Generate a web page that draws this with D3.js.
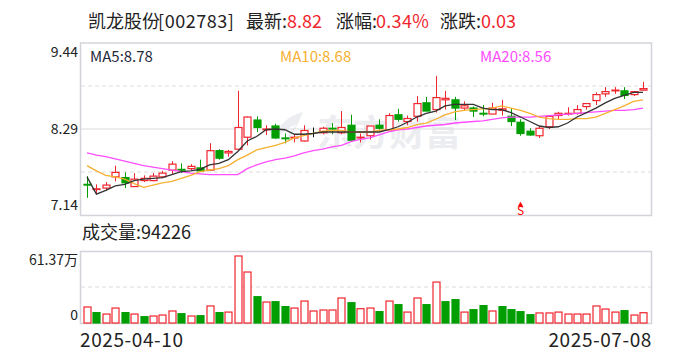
<!DOCTYPE html>
<html>
<head>
<meta charset="utf-8">
<script src="https://cdn.jsdelivr.net/npm/d3@7"></script>
<style>
  html, body { margin: 0; padding: 0; background: #fff; }
  text { font-family: "Noto Sans CJK SC", "Noto Sans", sans-serif; }
</style>
</head>
<body>
<div id="chart"></div>
<script>
const open = [7.55,7.48,7.50,7.65,7.64,7.52,7.60,7.60,7.65,7.74,7.75,7.76,7.77,7.74,8.00,7.97,8.02,8.18,8.41,8.28,
  8.33,8.17,8.17,8.13,8.27,8.24,8.30,8.24,8.34,8.17,8.20,8.34,8.28,8.48,8.39,8.46,8.64,8.55,8.68,8.68,
  8.57,8.57,8.50,8.49,8.54,8.46,8.38,8.26,8.20,8.32,8.47,8.49,8.50,8.59,8.67,8.76,8.80,8.80,8.75,8.81];
const close = [7.54,7.49,7.54,7.71,7.57,7.62,7.63,7.66,7.70,7.82,7.74,7.79,7.73,8.00,7.90,7.99,8.31,8.45,8.31,8.29,
  8.17,8.16,8.18,8.27,8.27,8.30,8.29,8.31,8.14,8.18,8.33,8.30,8.47,8.42,8.43,8.63,8.53,8.71,8.70,8.57,
  8.60,8.53,8.49,8.57,8.56,8.39,8.23,8.21,8.30,8.46,8.50,8.50,8.55,8.63,8.75,8.79,8.81,8.74,8.79,8.83];
const high = [7.66,7.55,7.58,7.80,7.71,7.70,7.67,7.70,7.73,7.86,7.83,7.82,7.88,8.10,8.02,8.01,8.80,8.46,8.46,8.34,
  8.36,8.23,8.21,8.34,8.31,8.32,8.37,8.53,8.48,8.23,8.33,8.42,8.50,8.56,8.47,8.73,8.72,9.00,8.80,8.72,
  8.66,8.59,8.61,8.64,8.68,8.56,8.42,8.30,8.33,8.46,8.52,8.58,8.61,8.63,8.78,8.85,8.85,8.85,8.79,8.92];
const low = [7.37,7.42,7.47,7.59,7.50,7.52,7.58,7.59,7.63,7.69,7.70,7.74,7.72,7.74,7.88,7.92,8.02,8.07,8.25,8.21,
  8.16,8.10,8.11,8.12,8.18,8.22,8.22,8.22,8.14,8.11,8.15,8.28,8.28,8.39,8.34,8.39,8.53,8.51,8.55,8.41,
  8.54,8.45,8.46,8.49,8.47,8.33,8.20,8.20,8.17,8.29,8.42,8.47,8.48,8.55,8.61,8.72,8.76,8.69,8.73,8.80];

const ma5 = [7.65,7.42,7.47,7.53,7.55,7.60,7.62,7.63,7.64,7.68,7.72,7.73,7.75,7.81,7.83,7.88,7.99,8.13,8.19,8.28,
  8.29,8.28,8.22,8.22,8.23,8.25,8.25,8.25,8.25,8.25,8.25,8.25,8.28,8.32,8.38,8.45,8.50,8.53,8.60,8.62,
  8.62,8.62,8.57,8.55,8.55,8.51,8.45,8.39,8.33,8.31,8.32,8.37,8.45,8.51,8.57,8.64,8.70,8.74,8.78,8.78];
const ma10 = [7.80,7.73,7.67,7.65,7.62,7.56,7.51,7.54,7.57,7.59,7.63,7.67,7.72,7.74,7.76,7.80,7.88,7.94,8.01,8.04,
  8.07,8.11,8.17,8.20,8.23,8.26,8.27,8.27,8.25,8.25,8.25,8.27,8.28,8.29,8.31,8.35,8.37,8.42,8.48,8.52,
  8.54,8.55,8.56,8.57,8.60,8.57,8.54,8.50,8.45,8.43,8.42,8.42,8.43,8.43,8.45,8.50,8.55,8.60,8.66,8.68];
const ma20 = [7.97,7.94,7.92,7.89,7.86,7.83,7.80,7.78,7.76,7.74,7.72,7.70,7.69,7.68,7.68,7.68,7.68,7.76,7.81,7.85,
  7.88,7.90,7.93,7.97,8.00,8.02,8.05,8.07,8.12,8.15,8.17,8.21,8.25,8.28,8.29,8.31,8.33,8.34,8.35,8.37,
  8.38,8.39,8.40,8.42,8.44,8.45,8.45,8.45,8.46,8.47,8.48,8.49,8.50,8.51,8.52,8.53,8.54,8.54,8.55,8.57];

// volume in 万
const volume = [14.65,9.5,8.2,13.7,9.5,8.2,5.8,6.4,7.3,11,8.5,6.4,6.7,15.6,9.5,10,61.37,46.7,24.1,19.2,
  19.5,15,13.7,20.1,11,11.9,11.9,22.9,18.6,13.1,13.7,10.4,20.1,16.8,10,22.9,16.8,37.5,19.5,21.4,
  10,12.2,15.9,11,15,12.2,10.4,7.6,9.2,9.2,10,8.2,8.2,8.2,15.6,12.8,10,11.3,7.3,9.42];
// 1 = red hollow bar, 0 = green solid bar
const volumeUp = [1,0,1,1,0,1,0,1,1,1,0,1,0,1,0,1,1,1,0,1,
  0,0,1,1,1,1,1,1,0,1,1,0,1,0,1,1,0,1,0,0,
  1,0,0,1,0,0,0,0,1,1,1,1,1,1,1,1,1,0,1,1];

const priceLabels = ["9.44", "8.29", "7.14"];
const volumeLabels = ["61.37万", "0"];
const dateLabels = ["2025-04-10", "2025-07-08"];
const sellIndex = 46;

const RED = "#f0252d", GREEN = "#009e00", INK = "#222";

const svg = d3.select("#chart").append("svg")
  .attr("width", 688).attr("height", 360)
  .style("display", "block");

const left = 81, right = 651;
const x = d3.scaleLinear().domain([0, 59]).range([87, 643]);
const y = d3.scaleLinear().domain([7.14, 9.44]).range([215, 43]);
const yVol = d3.scaleLinear().domain([0, 61.37]).range([323, 256]);

// title row, each piece placed on its own
[["凯龙股份", 88, INK, 0], ["[002783]", 158, INK, 0.55], ["最新:", 246, INK, 0], ["8.82", 287, RED, 0],
 ["涨幅:", 336, INK, 0], ["0.34%", 376, RED, 0.3], ["涨跌:", 440, INK, 0], ["0.03", 481, RED, 0]].forEach((d) => {
  svg.append("text").attr("x", d[1]).attr("y", 28).attr("font-size", 18)
    .attr("fill", d[2]).attr("letter-spacing", d[3]).text(d[0]);
});

// watermark
svg.append("path")
  .attr("d", "M303,112 C288,116 276,126 275,141 C282,131 291,126 298,124 C291,129 286,136 285,146 C291,136 297,127 303,112 Z")
  .attr("fill", "#ecedf0");
svg.append("text").attr("x", 317).attr("y", 146).attr("font-size", 36).attr("font-weight", 700)
  .attr("fill", "#ecedf0").text("东方财富");

// frames and grid
function frame(top, bottom) {
  svg.append("rect").attr("x", left - 0.5).attr("y", top + 0.5)
    .attr("width", right - left + 1).attr("height", bottom - top)
    .attr("fill", "none").attr("stroke", "#d3d3da").attr("stroke-width", 1.5);
}
frame(42.5, 215);
frame(251, 323);

[y(8.865), y(7.715)].forEach((v) => {
  svg.append("line").attr("x1", left).attr("x2", right).attr("y1", v).attr("y2", v)
    .attr("stroke", "#dcdcdc").attr("stroke-dasharray", "4,3");
});
svg.append("line").attr("x1", left).attr("x2", right).attr("y1", y(8.29)).attr("y2", y(8.29))
  .attr("stroke", "#dcdcdc").attr("stroke-width", 1.2);
svg.append("line").attr("x1", left).attr("x2", right).attr("y1", 287).attr("y2", 287)
  .attr("stroke", "#dcdcdc").attr("stroke-dasharray", "4,3");

// candles
const candles = d3.range(open.length);
const bodyW = 7;
svg.append("g").selectAll("line").data(candles).enter().append("line")
  .attr("x1", (i) => Math.round(x(i)) + 0.5).attr("x2", (i) => Math.round(x(i)) + 0.5)
  .attr("y1", (i) => y(high[i])).attr("y2", (i) => y(low[i]))
  .attr("stroke", (i) => candleColor(i));
svg.append("g").selectAll("rect").data(candles).enter().append("rect")
  .attr("x", (i) => Math.round(x(i)) + 0.5 - bodyW / 2)
  .attr("width", bodyW)
  .attr("y", (i) => y(Math.max(open[i], close[i])))
  .attr("height", (i) => Math.abs(y(open[i]) - y(close[i])))
  .attr("fill", (i) => (close[i] >= open[i] ? "#fff" : GREEN))
  .attr("stroke", (i) => candleColor(i))
  .attr("stroke-width", 1.2);

function candleColor(i) {
  if (close[i] === open[i]) return "#111";
  return close[i] > open[i] ? RED : GREEN;
}

// moving averages
const line = d3.line().x((d, i) => x(i)).y((d) => y(d));
[[ma20, "#ff4dff"], [ma10, "#f7b030"], [ma5, "#333"]].forEach((s) => {
  svg.append("path").attr("d", line(s[0])).attr("fill", "none")
    .attr("stroke", s[1]).attr("stroke-width", 1.3);
});

// MA legend
[["MA5:8.78", 90, "#1f2a3a"], ["MA10:8.68", 280, "#f7b030"], ["MA20:8.56", 480, "#ff4dff"]].forEach((d) => {
  svg.append("text").attr("x", d[1]).attr("y", 62).attr("font-size", 15).attr("fill", d[2]).text(d[0]);
});

// sell marker
svg.append("text").attr("x", x(sellIndex)).attr("y", 215).attr("text-anchor", "middle")
  .attr("font-size", 12).attr("fill", "#f00").text("S");
svg.append("path").attr("d", d3.symbol(d3.symbolTriangle, 14)())
  .attr("transform", `translate(${x(sellIndex)},205)`).attr("fill", "#f00");

// volume bars
const volW = 7;
svg.append("g").selectAll("rect").data(volume).enter().append("rect")
  .attr("x", (d, i) => Math.round(x(i)) + 0.5 - volW / 2)
  .attr("width", volW)
  .attr("y", (d) => yVol(d))
  .attr("height", (d) => yVol(0) - yVol(d))
  .attr("fill", (d, i) => (volumeUp[i] ? "#fff" : GREEN))
  .attr("stroke", (d, i) => (volumeUp[i] ? RED : GREEN))
  .attr("stroke-width", 1.2);

// axis labels
priceLabels.forEach((t, i) => {
  svg.append("text").attr("x", 78).attr("y", [57, 134, 210][i]).attr("text-anchor", "end")
    .attr("font-size", 14).attr("fill", INK).text(t);
});
volumeLabels.forEach((t, i) => {
  svg.append("text").attr("x", 78).attr("y", [265, 320][i]).attr("text-anchor", "end")
    .attr("font-size", 14).attr("fill", INK).text(t);
});
svg.append("text").attr("x", 82).attr("y", 239).attr("font-size", 18).attr("fill", INK).text("成交量:94226");
svg.append("text").attr("x", 80).attr("y", 347).attr("font-size", 19).attr("letter-spacing", 0.6).attr("fill", INK).text(dateLabels[0]);
svg.append("text").attr("x", 652).attr("y", 347).attr("text-anchor", "end").attr("font-size", 19).attr("letter-spacing", 0.6).attr("fill", INK).text(dateLabels[1]);
</script>
</body>
</html>
